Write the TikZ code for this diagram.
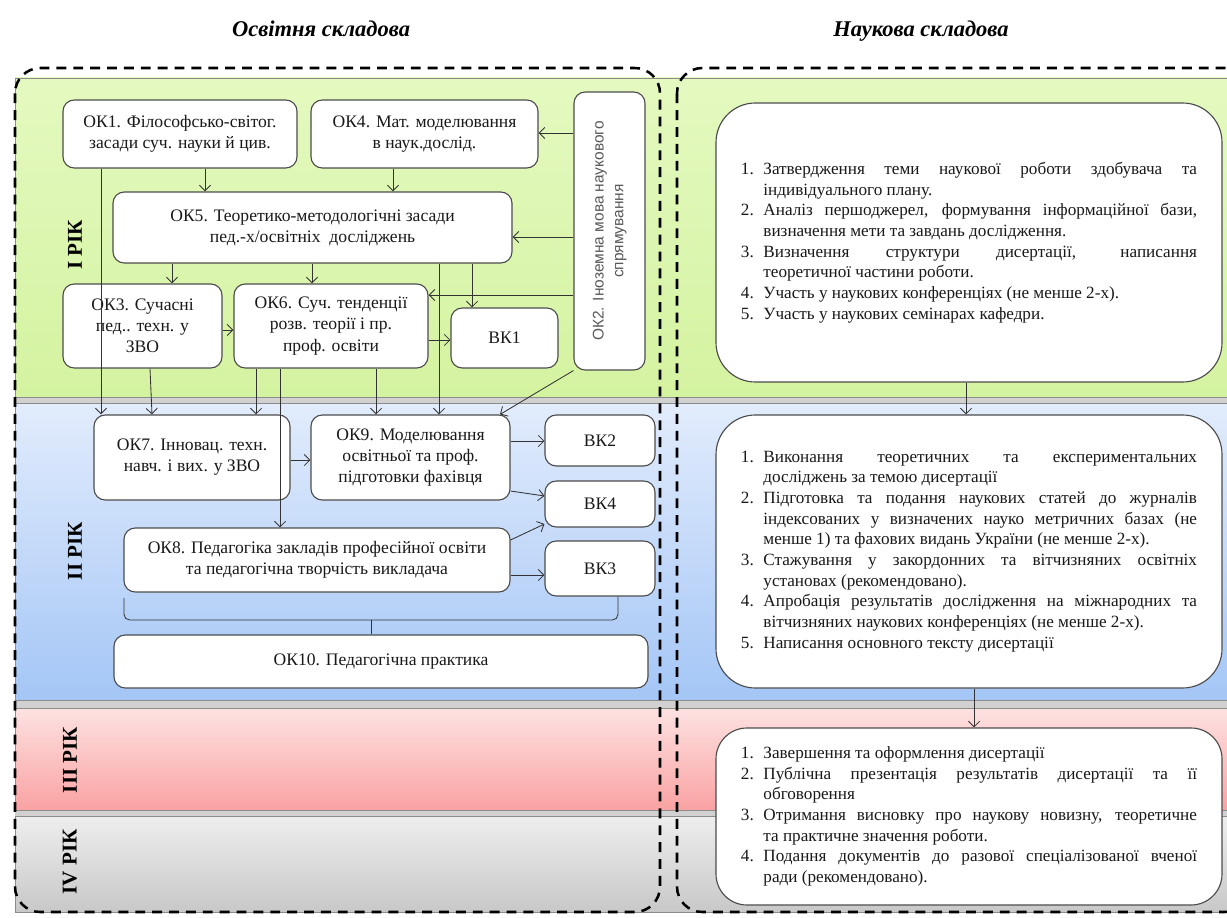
\documentclass[tikz,border=0pt]{standalone}
\usepackage{fontspec}
\setmainfont{Liberation Serif}
\newfontfamily\okfont{Liberation Sans}
\usepackage{graphicx}
\usetikzlibrary{arrows.meta, calc}

\definecolor{greenTop}{RGB}{228,249,192}
\definecolor{greenBot}{RGB}{212,243,160}
\definecolor{blueTop}{RGB}{226,236,252}
\definecolor{blueBot}{RGB}{164,198,246}
\definecolor{redTop}{RGB}{253,226,226}
\definecolor{redBot}{RGB}{250,162,162}
\definecolor{greyTop}{RGB}{238,238,238}
\definecolor{greyBot}{RGB}{200,200,200}

% one item of a numbered list with a hanging indent
\newcommand{\itm}[2]{\noindent\hangindent=16pt\hangafter=1\makebox[16pt][l]{#1.}#2\par}

\begin{document}
\begin{tikzpicture}[
    x=0.025cm, y=-0.025cm,
    % sizes given in pixels of the picture
    sz/.style 2 args={minimum width=#1*0.025cm, minimum height=#2*0.025cm},
    % boxes of the educational part
    okbox/.style={draw=black!70, fill=white, rounded corners=8pt, line width=0.8pt,
        align=center, inner sep=2pt, text=black!90, font=\fontsize{12.5}{15}\selectfont},
    % boxes of the scientific part
    scibox/.style={draw=black!70, fill=white, rounded corners=28pt, line width=0.8pt,
        inner sep=0pt, text width=11.4cm, align=justify, text=black!90,
        font=\fontsize{12.2}{14.7}\selectfont},
    band/.style={draw=black!45, line width=0.6pt},
    link/.style={draw=black!80, line width=0.6pt, -{Straight Barb[length=4pt,width=8pt]}},
    yearlabel/.style={rotate=90, font=\fontsize{15}{18}\selectfont\bfseries},
    parttitle/.style={anchor=base, font=\fontsize{16}{19}\selectfont\bfseries\itshape},
    part/.style={draw=black, dash pattern=on 7pt off 5pt, line width=1.8pt, rounded corners=18pt}
]

    \useasboundingbox (0,0) rectangle (1227,918);

    \begin{scope}
    \clip (0,0) rectangle (1227,918);

    % Bands of the years

    \fill[black!18] (15,78) rectangle (1240,912);
    \path[band, top color=greenTop, bottom color=greenBot] (15,78) rectangle (1240,397);
    \path[band, top color=blueTop, bottom color=blueBot] (15,403) rectangle (1240,700);
    \path[band, top color=redTop, bottom color=redBot] (15,708) rectangle (1240,810);
    \path[band, top color=greyTop, bottom color=greyBot] (15,816) rectangle (1240,912);

    \node[yearlabel] (y1) at (75,245) {I РІК};
    \node[yearlabel] (y2) at (75,551) {II РІК};
    \node[yearlabel] (y3) at (70,760) {III РІК};
    \node[yearlabel] (y4) at (70,862) {IV РІК};

    % Titles

    \node[parttitle] (edu) at (321,37) {Освітня складова};
    \node[parttitle] (sci) at (921,37) {Наукова складова};

    % Educational part

    %% Year I
    \node[okbox, sz={234}{68}] (ok1) at (180,134) {ОК1. Філософсько-світог.\\засади суч. науки й цив.};
    \node[okbox, sz={227}{68}] (ok4) at (424.5,134) {ОК4. Мат. моделювання\\в наук.дослід.};
    \node[okbox, sz={71}{278}] (ok2) at (609.5,231)
        {\rotatebox{90}{\okfont\fontsize{11}{14}\selectfont\color{black!65}%
        \begin{tabular}{@{}c@{}}ОК2. Іноземна мова наукового\\спрямування\end{tabular}}};
    \node[okbox, sz={399}{71}] (ok5) at (312.5,227.5) {ОК5. Теоретико-методологічні засади\\пед.-х/освітніх\ \ досліджень};
    \node[okbox, sz={159}{84}] (ok3) at (142.5,326) {ОК3. Сучасні\\пед.. техн. у\\ЗВО};
    \node[okbox, sz={194}{84}] (ok6) at (331,326) {ОК6. Суч. тенденції\\розв. теорії і пр.\\проф. освіти};
    \node[okbox, sz={107}{60}] (vk1) at (504.5,338) {ВК1};

    %% Year II
    \node[okbox, sz={196}{85}] (ok7) at (192,457.5) {ОК7. Інновац. техн.\\навч. і вих. у ЗВО};
    \node[okbox, sz={199}{85}] (ok9) at (410.5,457.5) {ОК9. Моделювання\\освітньої та проф.\\підготовки фахівця};
    \node[okbox, sz={110}{51}] (vk2) at (600,440.5) {ВК2};
    \node[okbox, sz={110}{46}] (vk4) at (600,504) {ВК4};
    \node[okbox, sz={110}{55}] (vk3) at (600,568.5) {ВК3};
    \node[okbox, sz={386}{64}] (ok8) at (317,560) {ОК8. Педагогіка закладів професійної освіти\\та педагогічна творчість викладача};
    \node[okbox, sz={534}{53}] (ok10) at (381,661.5) {ОК10. Педагогічна практика};

    %% Links of year I
    \draw[link] (ok1.south -| 205,0) -- (ok5.north -| 205,0);
    \draw[link] (ok4.south -| 393,0) -- (ok5.north -| 393,0);
    \draw[link] (ok2.west |- 0,133) -- (ok4.east |- 0,133);
    \draw[link] (ok2.west |- 0,237) -- (ok5.east |- 0,237);
    \draw[link] (ok2.west |- 0,295) -- (ok6.east |- 0,295);
    \draw[link] (ok5.south -| 172,0) -- (ok3.north -| 172,0);
    \draw[link] (ok5.south -| 312,0) -- (ok6.north -| 312,0);
    \draw[link] (ok5.south -| 472,0) -- (vk1.north -| 472,0);
    \draw[link] (ok3.east |- 0,330) -- (ok6.west |- 0,330);
    \draw[link] (ok6.east |- 0,340) -- (vk1.west |- 0,340);

    %% Links into year II
    \draw[link] (ok1.south -| 101,0) -- (ok7.north -| 101,0);
    \draw[link] (ok3.south -| 150,0) -- (ok7.north -| 152,0);
    \draw[link] (ok6.south -| 256,0) -- (ok7.north -| 256,0);
    \draw[link] (ok6.south -| 280,0) -- (ok8.north -| 280,0);
    \draw[link] (ok6.south -| 376,0) -- (ok9.north -| 376,0);
    \draw[link] (ok5.south -| 439,0) -- (ok9.north -| 439,0);
    \draw[link] (ok2.south west) -- (ok9.north -| 500,0);

    %% Links of year II
    \draw[link] (ok7.east |- 0,460) -- (ok9.west |- 0,460);
    \draw[link] (ok9.east |- 0,441) -- (vk2.west |- 0,441);
    \draw[link] (ok9.east |- 0,491) -- (vk4.west |- 0,496);
    \draw[link] (ok8.east |- 0,540) -- (vk4.west |- 0,524);
    \draw[link] (ok8.east |- 0,575) -- (vk3.west |- 0,575);

    %% Brace to the practice
    \coordinate (brace-l) at (124,598);
    \draw[line width=0.6pt, black!80, rounded corners=4pt]
        (brace-l) -- (124,620) -- (618,620) -- (vk3.south -| 618,0);
    \draw[line width=0.6pt, black!80] (371,620) -- (ok10.north -| 371,0);

    % Scientific part

    \node[scibox, sz={506}{279}] (r1) at (969,242.5) {%
        \itm{1}{Затвердження теми наукової роботи здобувача та\linebreak індивідуального плану.}
        \itm{2}{Аналіз першоджерел, формування інформаційної бази,\linebreak визначення мети та завдань дослідження.}
        \itm{3}{Визначення структури дисертації, написання\linebreak теоретичної частини роботи.}
        \itm{4}{Участь у наукових конференціях (не менше 2-х).}
        \itm{5}{Участь у наукових семінарах кафедри.}};
    \node[scibox, sz={506}{273}] (r2) at (969,551.5) {%
        \itm{1}{Виконання теоретичних та експериментальних\linebreak досліджень за темою дисертації}
        \itm{2}{Підготовка та подання наукових статей до журналів\linebreak індексованих у визначених науко метричних базах (не\linebreak менше 1) та фахових видань України (не менше 2-х).}
        \itm{3}{Стажування у закордонних та вітчизняних освітніх\linebreak установах (рекомендовано).}
        \itm{4}{Апробація результатів дослідження на міжнародних та\linebreak вітчизняних наукових конференціях (не менше 2-х).}
        \itm{5}{Написання основного тексту дисертації}};
    \node[scibox, rounded corners=22pt, sz={506}{177}] (r3) at (969,816.5) {%
        \itm{1}{Завершення та оформлення дисертації}
        \itm{2}{Публічна презентація результатів дисертації та її\linebreak обговорення}
        \itm{3}{Отримання висновку про наукову новизну, теоретичне\linebreak та практичне значення роботи.}
        \itm{4}{Подання документів до разової спеціалізованої вченої\linebreak ради (рекомендовано).}};

    \draw[link] (r1.south -| 966,0) -- (r2.north -| 966,0);
    \draw[link] (r2.south -| 974,0) -- (r3.north -| 974,0);

    % Dashed frames of the two parts

    \draw[part] (15,68) rectangle (660,912);
    \draw[part] (677,68) rectangle (1250,912);

    \end{scope}

\end{tikzpicture}
\end{document}
